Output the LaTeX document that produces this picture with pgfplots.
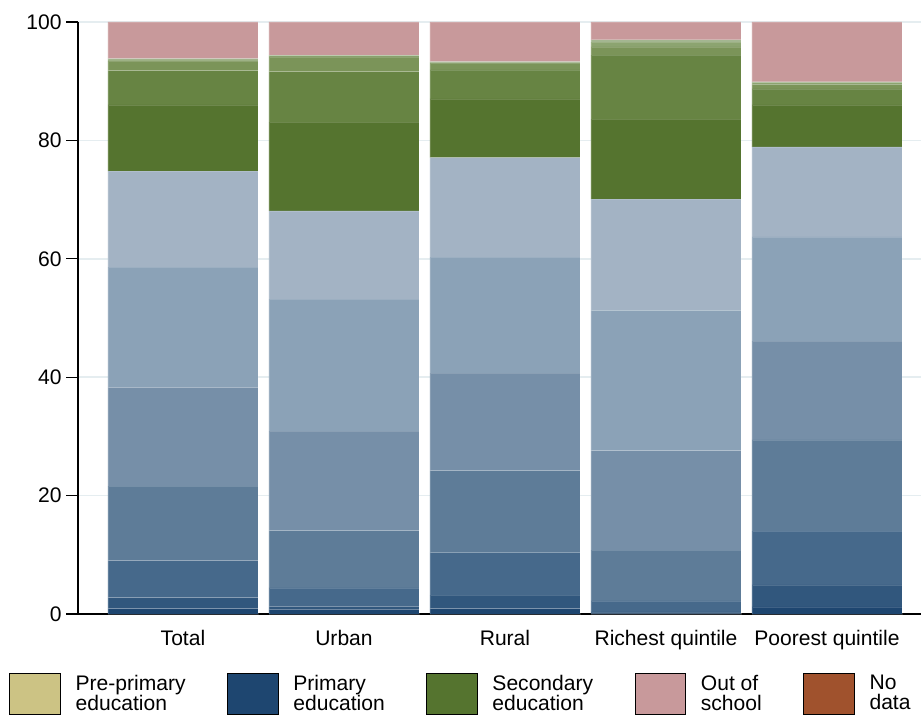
\documentclass[border=0pt]{standalone}
\usepackage{fontspec}
\setmainfont{Liberation Sans}
\usepackage{pgfplots}
\usepackage{pgfplotstable}
\pgfplotsset{compat=1.18}

% shades of primary (blue) and secondary (green) grades, darkest = lowest grade
\definecolor{bA}{HTML}{1E4670}
\definecolor{bB}{HTML}{31577D}
\definecolor{bC}{HTML}{46698B}
\definecolor{bD}{HTML}{5E7C98}
\definecolor{bE}{HTML}{768FA8}
\definecolor{bF}{HTML}{8BA2B7}
\definecolor{bG}{HTML}{A3B3C4}
\definecolor{gA}{HTML}{55742F}
\definecolor{gB}{HTML}{678443}
\definecolor{gC}{HTML}{7B9459}
\definecolor{gD}{HTML}{8CA470}
\definecolor{gE}{HTML}{A3B690}
\definecolor{oos}{HTML}{C8999B}
\definecolor{prep}{HTML}{CCC384}
\definecolor{nodata}{HTML}{A0522D}
\definecolor{gridc}{HTML}{E5EDF0}

\newcommand{\lab}{\fontsize{15.8pt}{15pt}\selectfont}

% share of children by level and grade attended (percent)
\pgfplotstableread{
x b1  b2   b3   b4   b5   b6   b7   g1   g2   g3  g4  g5  oos
0 0.9 1.85 6.25 12.6 16.7 20.3 16.2 11.2 5.8  1.6 0.2 0.2 6.2
1 0.8 0.5  3.1  9.7  16.8 22.3 14.9 15.0 8.5  2.5 0.2 0.1 5.6
2 0.9 2.3  7.2  13.8 16.5 19.6 16.8 9.9  4.9  1.2 0.1 0.1 6.7
3 0.1 0.25 1.85 8.6  16.8 23.7 18.8 13.5 10.8 1.4 0.8 0.4 3.0
4 1.2 3.7  9.1  15.4 16.7 17.6 15.2 7.1  2.7  0.7 0.4 0.1 10.1
}\shares

\begin{document}
\begin{tikzpicture}
\begin{axis}[
  name=ax,
  scale only axis,
  width=632.25pt, height=444pt,
  xmin=-0.652, xmax=4.584,
  ymin=0, ymax=100,
  ybar stacked, bar width=112.5pt,
  axis lines=left,
  axis line style={-, line width=1pt, black},
  xtick={0,...,4},
  xticklabels={Total,Urban,Rural,Richest quintile,Poorest quintile},
  xtick style={draw=none},
  xticklabel style={yshift=0pt},
  ytick={0,20,...,100},
  ytick style={line width=1pt, black},
  tick align=outside,
  major tick length=8.75pt,
  ymajorgrids,
  major grid style={gridc, line width=1.1pt},
  tick label style={font=\lab},
  /pgf/number format/assume math mode=true,
  seg/.style={fill=#1, draw=white, draw opacity=0.15, line width=0.5pt, forget plot},
  legend image code/.code={\fill[#1] (0pt,-15.5pt) rectangle (38pt,15.5pt);},
  legend columns=-1,
  legend style={draw=none, fill=none, inner sep=0pt,
    at={(-0.0819,-0.098)}, anchor=north west,
    font=\lab, cells={align=left},
    /tikz/every odd column/.append style={column sep=9.4pt},
    /tikz/every even column/.append style={column sep=29pt}},
]
\addplot[seg=bA] table[x=x,y=b1] {\shares};
\addplot[seg=bB] table[x=x,y=b2] {\shares};
\addplot[seg=bC] table[x=x,y=b3] {\shares};
\addplot[seg=bD] table[x=x,y=b4] {\shares};
\addplot[seg=bE] table[x=x,y=b5] {\shares};
\addplot[seg=bF] table[x=x,y=b6] {\shares};
\addplot[seg=bG] table[x=x,y=b7] {\shares};
\addplot[seg=gA] table[x=x,y=g1] {\shares};
\addplot[seg=gB] table[x=x,y=g2] {\shares};
\addplot[seg=gC] table[x=x,y=g3] {\shares};
\addplot[seg=gD] table[x=x,y=g4] {\shares};
\addplot[seg=gE] table[x=x,y=g5] {\shares};
\addplot[seg=oos] table[x=x,y=oos] {\shares};

\addlegendimage{fill=prep}
\addlegendentry{Pre-primary\\education}
\addlegendimage{fill=bA}
\addlegendentry{Primary\\education}
\addlegendimage{fill=gA}
\addlegendentry{Secondary\\education}
\addlegendimage{fill=oos}
\addlegendentry{Out of\\school}
\addlegendimage{fill=nodata}
\addlegendentry{No\\data}
\end{axis}
\pgfresetboundingbox
\path[use as bounding box] ([shift={(-58.5pt,-75.75pt)}]ax.south west)
  rectangle ([shift={(633pt,460.5pt)}]ax.south west);
\end{tikzpicture}
\end{document}
